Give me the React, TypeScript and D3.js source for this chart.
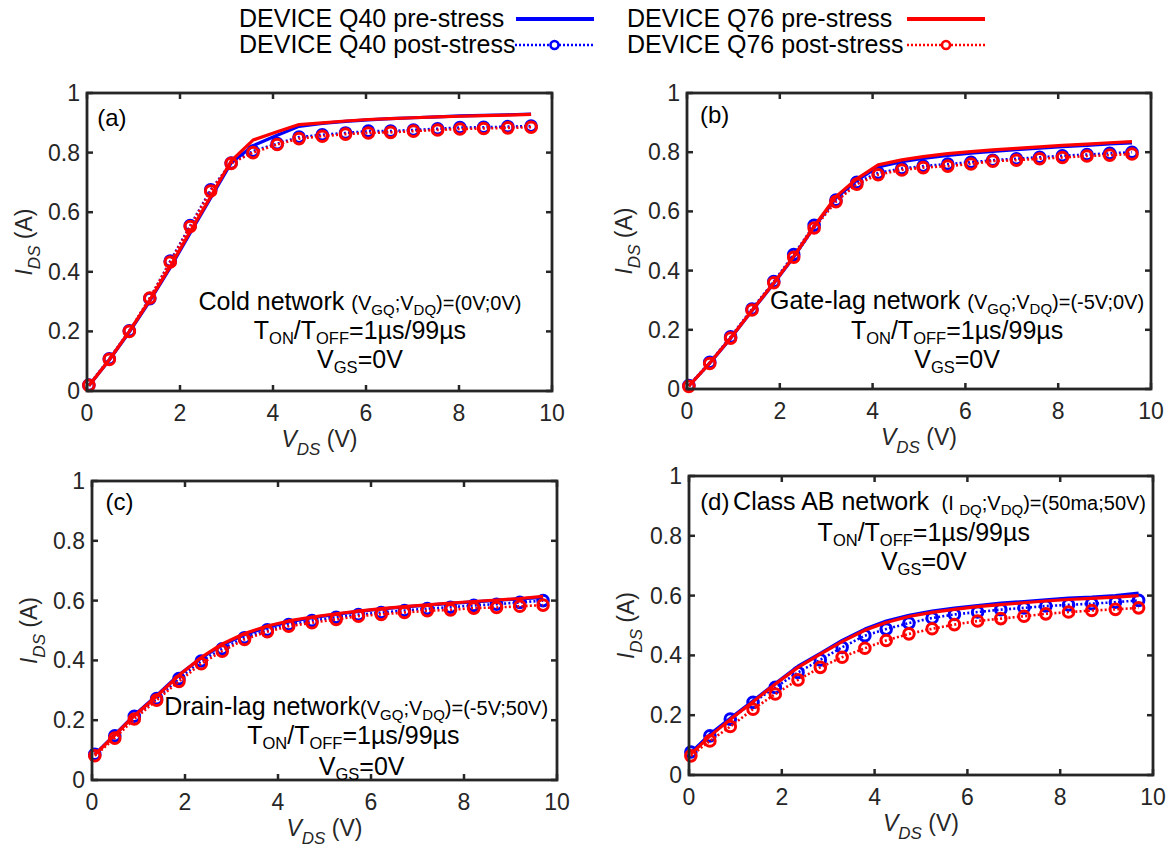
import React from 'react';
import * as d3 from 'd3';

// ---------------- data ----------------
const xTicks = [0, 2, 4, 6, 8, 10];
const yTicks = [0, 0.2, 0.4, 0.6, 0.8, 1];

// Panel (a) Cold network
const vA = [0.04, 0.48, 0.91, 1.35, 1.79, 2.22, 2.66, 3.1, 3.57, 4.09, 4.56, 5.06, 5.56, 6.05, 6.53, 7.02, 7.54, 8.02, 8.53, 9.05, 9.55];
const aQ40Pre = [0.018, 0.104, 0.198, 0.302, 0.414, 0.53, 0.648, 0.765, 0.823, 0.858, 0.888, 0.898, 0.905, 0.91, 0.914, 0.917, 0.92, 0.923, 0.925, 0.927, 0.929];
const aQ40Post = [0.02, 0.108, 0.202, 0.31, 0.436, 0.555, 0.675, 0.765, 0.805, 0.83, 0.852, 0.86, 0.866, 0.872, 0.872, 0.876, 0.88, 0.884, 0.885, 0.887, 0.889];
const aQ76Pre = [0.018, 0.105, 0.2, 0.305, 0.418, 0.535, 0.652, 0.772, 0.842, 0.87, 0.894, 0.9, 0.906, 0.911, 0.914, 0.917, 0.92, 0.922, 0.924, 0.926, 0.928];
const aQ76Post = [0.019, 0.106, 0.2, 0.312, 0.433, 0.552, 0.671, 0.764, 0.8, 0.827, 0.847, 0.855, 0.862, 0.866, 0.868, 0.872, 0.876, 0.879, 0.881, 0.883, 0.885];

// Panel (b) Gate-lag network
const vB = [0.04, 0.49, 0.94, 1.4, 1.87, 2.3, 2.74, 3.21, 3.66, 4.12, 4.63, 5.09, 5.62, 6.12, 6.59, 7.1, 7.6, 8.09, 8.62, 9.11, 9.59];
const bQ40Pre = [0.01, 0.087, 0.171, 0.264, 0.356, 0.446, 0.547, 0.645, 0.705, 0.75, 0.768, 0.779, 0.789, 0.797, 0.803, 0.809, 0.814, 0.819, 0.823, 0.828, 0.831];
const bQ40Post = [0.012, 0.09, 0.176, 0.27, 0.363, 0.454, 0.553, 0.638, 0.698, 0.73, 0.745, 0.753, 0.76, 0.766, 0.773, 0.778, 0.783, 0.788, 0.792, 0.796, 0.8];
const bQ76Pre = [0.01, 0.088, 0.172, 0.265, 0.358, 0.448, 0.55, 0.65, 0.71, 0.757, 0.774, 0.785, 0.795, 0.802, 0.808, 0.813, 0.818, 0.823, 0.827, 0.832, 0.836];
const bQ76Post = [0.009, 0.086, 0.172, 0.267, 0.359, 0.445, 0.544, 0.633, 0.692, 0.724, 0.74, 0.748, 0.753, 0.76, 0.77, 0.773, 0.778, 0.782, 0.787, 0.79, 0.794];

// Panel (c) Drain-lag network
const vC = [0.06, 0.49, 0.91, 1.39, 1.87, 2.35, 2.8, 3.28, 3.77, 4.23, 4.73, 5.25, 5.73, 6.22, 6.72, 7.21, 7.71, 8.21, 8.7, 9.2, 9.7];
const cQ40Pre = [0.086, 0.152, 0.217, 0.283, 0.352, 0.408, 0.451, 0.486, 0.511, 0.529, 0.543, 0.554, 0.564, 0.572, 0.579, 0.585, 0.591, 0.596, 0.601, 0.606, 0.611];
const cQ40Post = [0.086, 0.148, 0.213, 0.272, 0.339, 0.398, 0.439, 0.476, 0.502, 0.52, 0.533, 0.544, 0.553, 0.56, 0.567, 0.573, 0.578, 0.584, 0.588, 0.594, 0.6];
const cQ76Pre = [0.085, 0.15, 0.215, 0.28, 0.35, 0.41, 0.455, 0.49, 0.515, 0.532, 0.545, 0.556, 0.565, 0.573, 0.58, 0.586, 0.592, 0.597, 0.602, 0.607, 0.614];
const cQ76Post = [0.081, 0.14, 0.204, 0.267, 0.33, 0.389, 0.431, 0.47, 0.496, 0.514, 0.526, 0.537, 0.548, 0.554, 0.56, 0.566, 0.569, 0.575, 0.577, 0.581, 0.585];

// Panel (d) Class AB network
const vD = [0.04, 0.45, 0.89, 1.38, 1.86, 2.35, 2.83, 3.3, 3.79, 4.25, 4.74, 5.24, 5.72, 6.22, 6.72, 7.22, 7.69, 8.18, 8.68, 9.19, 9.69];
const dQ40Pre = [0.075, 0.136, 0.19, 0.248, 0.306, 0.364, 0.407, 0.45, 0.488, 0.515, 0.534, 0.548, 0.558, 0.567, 0.575, 0.58, 0.586, 0.592, 0.595, 0.6, 0.608];
const dQ40Post = [0.077, 0.131, 0.187, 0.243, 0.293, 0.343, 0.385, 0.427, 0.466, 0.488, 0.508, 0.525, 0.537, 0.545, 0.553, 0.559, 0.565, 0.569, 0.573, 0.578, 0.584];
const dQ76Pre = [0.07, 0.13, 0.186, 0.245, 0.304, 0.36, 0.404, 0.446, 0.484, 0.51, 0.53, 0.544, 0.554, 0.563, 0.57, 0.576, 0.582, 0.587, 0.591, 0.595, 0.6];
const dQ76Post = [0.064, 0.114, 0.162, 0.22, 0.271, 0.318, 0.36, 0.394, 0.424, 0.45, 0.472, 0.489, 0.503, 0.515, 0.523, 0.531, 0.539, 0.545, 0.55, 0.554, 0.559];

const legendLabels = ['DEVICE Q40 pre-stress', 'DEVICE Q40 post-stress', 'DEVICE Q76 pre-stress', 'DEVICE Q76 post-stress'];

// ---------------- styling / layout ----------------
const FONT = 'Liberation Sans, Arial, Helvetica, sans-serif';
const AXIS = '#262626';
const BLUE = '#0000ff';
const RED = '#ff0000';
const SZ = { m: 25, s: 16.5, p: 20, ps: 15 };
const SHIFT = { m: 0, p: 0, s: 5, ps: 5 };

type Seg = [string, 'm' | 's' | 'p' | 'ps'];

const tonLine: Seg[] = [['T', 'm'], ['ON', 's'], ['/T', 'm'], ['OFF', 's'], ['=1µs/99µs', 'm']];
const vgsLine: Seg[] = [['V', 'm'], ['GS', 's'], ['=0V', 'm']];

const panels = [
  {
    key: 'a', left: 87, right: 552, top: 93, bottom: 391,
    v: vA, q40Pre: aQ40Pre, q40Post: aQ40Post, q76Pre: aQ76Pre, q76Post: aQ76Post,
    label: '(a)', labelAt: [0.22, 0.915],
    ann: [
      { x: 5.87, y: 0.3, anchor: 'middle', segs: [['Cold network ', 'm'], ['(V', 'p'], ['GQ', 'ps'], [';V', 'p'], ['DQ', 'ps'], [')=(0V;0V)', 'p']] as Seg[] },
      { x: 5.87, y: 0.2, anchor: 'middle', segs: tonLine },
      { x: 5.87, y: 0.104, anchor: 'middle', segs: vgsLine },
    ],
  },
  {
    key: 'b', left: 687, right: 1151, top: 93, bottom: 389,
    v: vB, q40Pre: bQ40Pre, q40Post: bQ40Post, q76Pre: bQ76Pre, q76Post: bQ76Post,
    label: '(b)', labelAt: [0.28, 0.925],
    ann: [
      { x: 5.82, y: 0.296, anchor: 'middle', segs: [['Gate-lag network ', 'm'], ['(V', 'p'], ['GQ', 'ps'], [';V', 'p'], ['DQ', 'ps'], [')=(-5V;0V)', 'p']] as Seg[] },
      { x: 5.82, y: 0.196, anchor: 'middle', segs: tonLine },
      { x: 5.82, y: 0.098, anchor: 'middle', segs: vgsLine },
    ],
  },
  {
    key: 'c', left: 92, right: 557, top: 481, bottom: 780,
    v: vC, q40Pre: cQ40Pre, q40Post: cQ40Post, q76Pre: cQ76Pre, q76Post: cQ76Post,
    label: '(c)', labelAt: [0.29, 0.929],
    ann: [
      { x: 5.68, y: 0.243, anchor: 'middle', segs: [['Drain-lag network', 'm'], ['(V', 'p'], ['GQ', 'ps'], [';V', 'p'], ['DQ', 'ps'], [')=(-5V;50V)', 'p']] as Seg[] },
      { x: 5.62, y: 0.146, anchor: 'middle', segs: tonLine },
      { x: 5.8, y: 0.042, anchor: 'middle', segs: vgsLine },
    ],
  },
  {
    key: 'd', left: 689, right: 1153, top: 476, bottom: 775,
    v: vD, q40Pre: dQ40Pre, q40Post: dQ40Post, q76Pre: dQ76Pre, q76Post: dQ76Post,
    label: '(d)', labelAt: [0.24, 0.914],
    ann: [
      { x: 0.95, y: 0.914, anchor: 'start', segs: [['Class AB network ', 'm'], [' (I ', 'p'], ['DQ', 'ps'], [';V', 'p'], ['DQ', 'ps'], [')=(50ma;50V)', 'p']] as Seg[] },
      { x: 5.06, y: 0.81, anchor: 'middle', segs: tonLine },
      { x: 5.06, y: 0.714, anchor: 'middle', segs: vgsLine },
    ],
  },
];

function RichText({ x, y, anchor, segs, fill = '#000' }: { x: number; y: number; anchor: string; segs: Seg[]; fill?: string }) {
  let cur = 0;
  return (
    <text x={x} y={y} textAnchor={anchor as any} fontFamily={FONT} fill={fill} style={{ whiteSpace: 'pre' }}>
      {segs.map(([t, k], i) => {
        const target = SHIFT[k];
        const dy = target - cur;
        cur = target;
        return (
          <tspan key={i} dy={dy} fontSize={SZ[k]}>{t}</tspan>
        );
      })}
    </text>
  );
}

function Series({ v, vals, color, post, x, y }: any) {
  const line = d3.line<number>().x((_, i) => x(v[i])).y((d) => y(d));
  return (
    <g>
      <path d={line(vals) || ''} fill="none" stroke={color}
        strokeWidth={post ? 2.6 : 3.2}
        strokeDasharray={post ? '2 2.2' : undefined} strokeLinejoin="round" />
      {post && vals.map((d: number, i: number) => (
        <circle key={i} cx={x(v[i])} cy={y(d)} r={5.3} fill="none" stroke={color} strokeWidth={3} />
      ))}
    </g>
  );
}

function Panel({ p }: any) {
  const x = d3.scaleLinear().domain([0, 10]).range([p.left, p.right]);
  const y = d3.scaleLinear().domain([0, 1]).range([p.bottom, p.top]);
  const tl = 6;
  const cx = (p.left + p.right) / 2;
  const cy = (p.top + p.bottom) / 2;
  return (
    <g>
      <Series v={p.v} vals={p.q40Pre} color={BLUE} post={false} x={x} y={y} />
      <Series v={p.v} vals={p.q40Post} color={BLUE} post={true} x={x} y={y} />
      <Series v={p.v} vals={p.q76Pre} color={RED} post={false} x={x} y={y} />
      <Series v={p.v} vals={p.q76Post} color={RED} post={true} x={x} y={y} />

      {xTicks.map((t) => (
        <g key={'x' + t}>
          <line x1={x(t)} x2={x(t)} y1={p.bottom} y2={p.bottom - tl} stroke={AXIS} strokeWidth={2.5} />
          <line x1={x(t)} x2={x(t)} y1={p.top} y2={p.top + tl} stroke={AXIS} strokeWidth={2.5} />
          <text x={x(t)} y={p.bottom + 30} textAnchor="middle" fontFamily={FONT} fontSize={23} fill={AXIS}>{String(t)}</text>
        </g>
      ))}
      {yTicks.map((t) => (
        <g key={'y' + t}>
          <line x1={p.left} x2={p.left + tl} y1={y(t)} y2={y(t)} stroke={AXIS} strokeWidth={2.5} />
          <line x1={p.right} x2={p.right - tl} y1={y(t)} y2={y(t)} stroke={AXIS} strokeWidth={2.5} />
          <text x={p.left - 7} y={y(t) + 8} textAnchor="end" fontFamily={FONT} fontSize={23} fill={AXIS}>{d3.format('~g')(t)}</text>
        </g>
      ))}
      <rect x={p.left} y={p.top} width={p.right - p.left} height={p.bottom - p.top} fill="none" stroke={AXIS} strokeWidth={2.8} />

      <text x={cx} y={p.bottom + 56} textAnchor="middle" fontFamily={FONT} fontSize={23} fill={AXIS} style={{ whiteSpace: 'pre' }}>
        <tspan fontStyle="italic">V</tspan>
        <tspan dy={8} fontSize={17} fontStyle="italic">DS</tspan>
        <tspan dy={-8}> (V)</tspan>
      </text>
      <text transform={`translate(${p.left - 55},${cy}) rotate(-90)`} textAnchor="middle" fontFamily={FONT} fontSize={23} fill={AXIS} style={{ whiteSpace: 'pre' }}>
        <tspan fontStyle="italic">I</tspan>
        <tspan dy={8} fontSize={17} fontStyle="italic">DS</tspan>
        <tspan dy={-8}> (A)</tspan>
      </text>

      <text x={x(p.labelAt[0])} y={y(p.labelAt[1]) + 8} fontFamily={FONT} fontSize={24} fill="#000">{p.label}</text>

      {p.ann.map((a: any, i: number) => (
        <RichText key={i} x={x(a.x)} y={y(a.y) + 8} anchor={a.anchor} segs={a.segs} />
      ))}
    </g>
  );
}

function Legend() {
  const rows = [
    { label: legendLabels[0], tx: 239, ty: 27, lx1: 516, lx2: 594, ly: 19, color: BLUE, post: false },
    { label: legendLabels[1], tx: 239, ty: 53, lx1: 515, lx2: 594, ly: 45, color: BLUE, post: true },
    { label: legendLabels[2], tx: 627, ty: 27, lx1: 907, lx2: 985, ly: 19, color: RED, post: false },
    { label: legendLabels[3], tx: 627, ty: 53, lx1: 907, lx2: 985, ly: 45, color: RED, post: true },
  ];
  return (
    <g>
      {rows.map((r, i) => (
        <g key={i}>
          <text x={r.tx} y={r.ty} fontFamily={FONT} fontSize={25} fill="#000">{r.label}</text>
          <line x1={r.lx1} x2={r.lx2} y1={r.ly} y2={r.ly} stroke={r.color}
            strokeWidth={r.post ? 2.6 : 4} strokeDasharray={r.post ? '2 2' : undefined} />
          {r.post && <circle cx={(r.lx1 + r.lx2) / 2} cy={r.ly} r={4} fill="#fff" stroke={r.color} strokeWidth={2.6} />}
        </g>
      ))}
    </g>
  );
}

export default function App() {
  return (
    <svg width={1171} height={852} viewBox="0 0 1171 852"
      style={{ position: 'absolute', left: 0, top: 0, background: '#fff' }}>
      <rect x={0} y={0} width={1171} height={852} fill="#fff" />
      <Legend />
      {panels.map((p) => <Panel key={p.key} p={p} />)}
    </svg>
  );
}
